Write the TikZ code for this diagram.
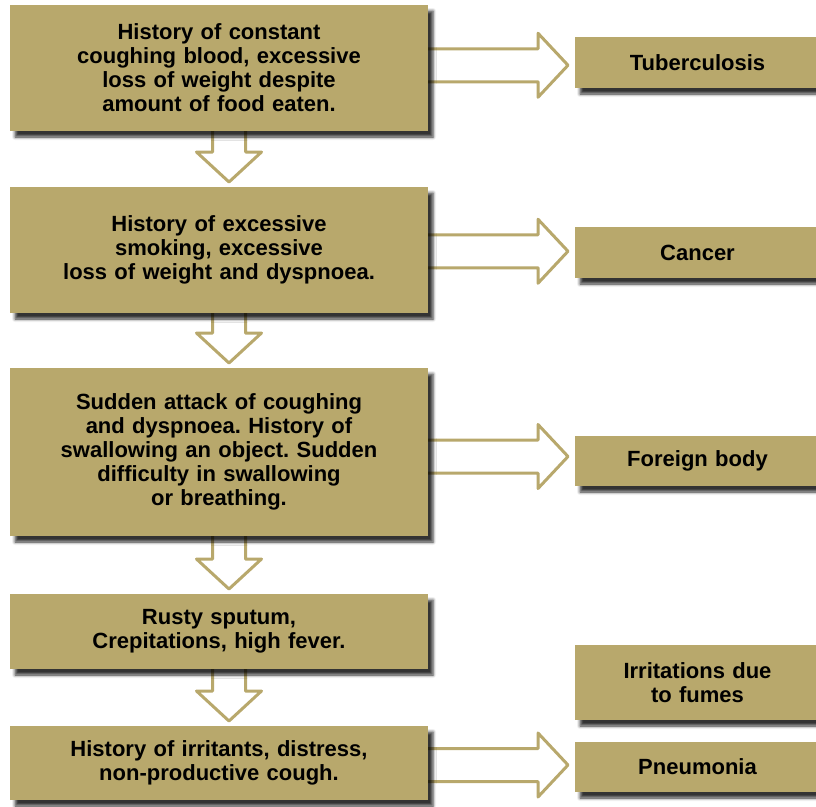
\documentclass[tikz,border=0pt]{standalone}
\usepackage{fontspec}
\setmainfont{Liberation Sans}
\usetikzlibrary{calc,shadows.blur}
\definecolor{khaki}{RGB}{184,168,108}
\newcommand{\bx}{\fontsize{22}{24}\selectfont\bfseries\frenchspacing}
\pgfdeclarelayer{bg}
\pgfsetlayers{bg,main}
\tikzset{
  box/.style={fill=khaki, inner sep=0pt, outer sep=0pt, align=center, font=\bx, text=black,
    anchor=north west,
    blur shadow={shadow xshift=5pt, shadow yshift=-6pt, shadow blur radius=3pt, shadow opacity=80}},
  mainbox/.style={box, minimum width=418, text width=410},
  sidebox/.style={box, minimum width=245, text width=240},
  hollow/.style={draw=khaki, fill=white, line width=3pt, line join=round},
}
\newcommand{\harrow}[2]{%
  \draw[hollow] let \p1=(#1.east), \p2=(#2.west), \n1={(\y1+\y2)/2} in
    (\x1,{\n1+16.5}) -- ({\x2-37},{\n1+16.5}) -- ({\x2-37},{\n1+32}) -- ({\x2-7},\n1)
    -- ({\x2-37},{\n1-32}) -- ({\x2-37},{\n1-16.5}) -- (\x1,{\n1-16.5});}
\newcommand{\varrow}[2]{%
  \draw[hollow] let \p1=(#1.south), \p2=(#2.north), \n1={\x1+10} in
    ({\n1-16.5},\y1) -- ({\n1-16.5},{\y2+35}) -- ({\n1-32.5},{\y2+35}) -- (\n1,{\y2+5})
    -- ({\n1+32.5},{\y2+35}) -- ({\n1+16.5},{\y2+35}) -- ({\n1+16.5},\y1);}
\begin{document}
\begin{tikzpicture}[x=1pt,y=1pt]
\clip (0,0) rectangle (816,-806);
\node[mainbox, minimum height=126] (b1) at (10,-5)
  {History of constant\\coughing blood, excessive\\loss of weight despite\\amount of food eaten.};
\node[mainbox, minimum height=126] (b2) at (10,-187)
  {History of excessive\\smoking, excessive\\loss of weight and dyspnoea.};
\node[mainbox, minimum height=168] (b3) at (10,-368)
  {Sudden attack of coughing\\and dyspnoea. History of\\swallowing an object. Sudden\\difficulty in swallowing\\or breathing.};
\node[mainbox, minimum height=75] (b4) at (10,-594)
  {Rusty sputum,\\Crepitations, high fever.};
\node[mainbox, minimum height=74] (b5) at (10,-726)
  {History of irritants, distress,\\non-productive cough.};
\node[sidebox, minimum height=51] (t1) at (575,-37) {Tuberculosis};
\node[sidebox, minimum height=51] (t2) at (575,-227) {Cancer};
\node[sidebox, minimum height=50] (t3) at (575,-436) {Foreign body};
\node[sidebox, minimum height=75] (t4) at (575,-645) {Irritations due\\to fumes};
\node[sidebox, minimum height=50] (t5) at (575,-742) {Pneumonia};
\begin{pgfonlayer}{bg}
\harrow{b1}{t1}
\harrow{b2}{t2}
\harrow{b3}{t3}
\harrow{b5}{t5}
\varrow{b1}{b2}
\varrow{b2}{b3}
\varrow{b3}{b4}
\varrow{b4}{b5}
\end{pgfonlayer}
\end{tikzpicture}
\end{document}
